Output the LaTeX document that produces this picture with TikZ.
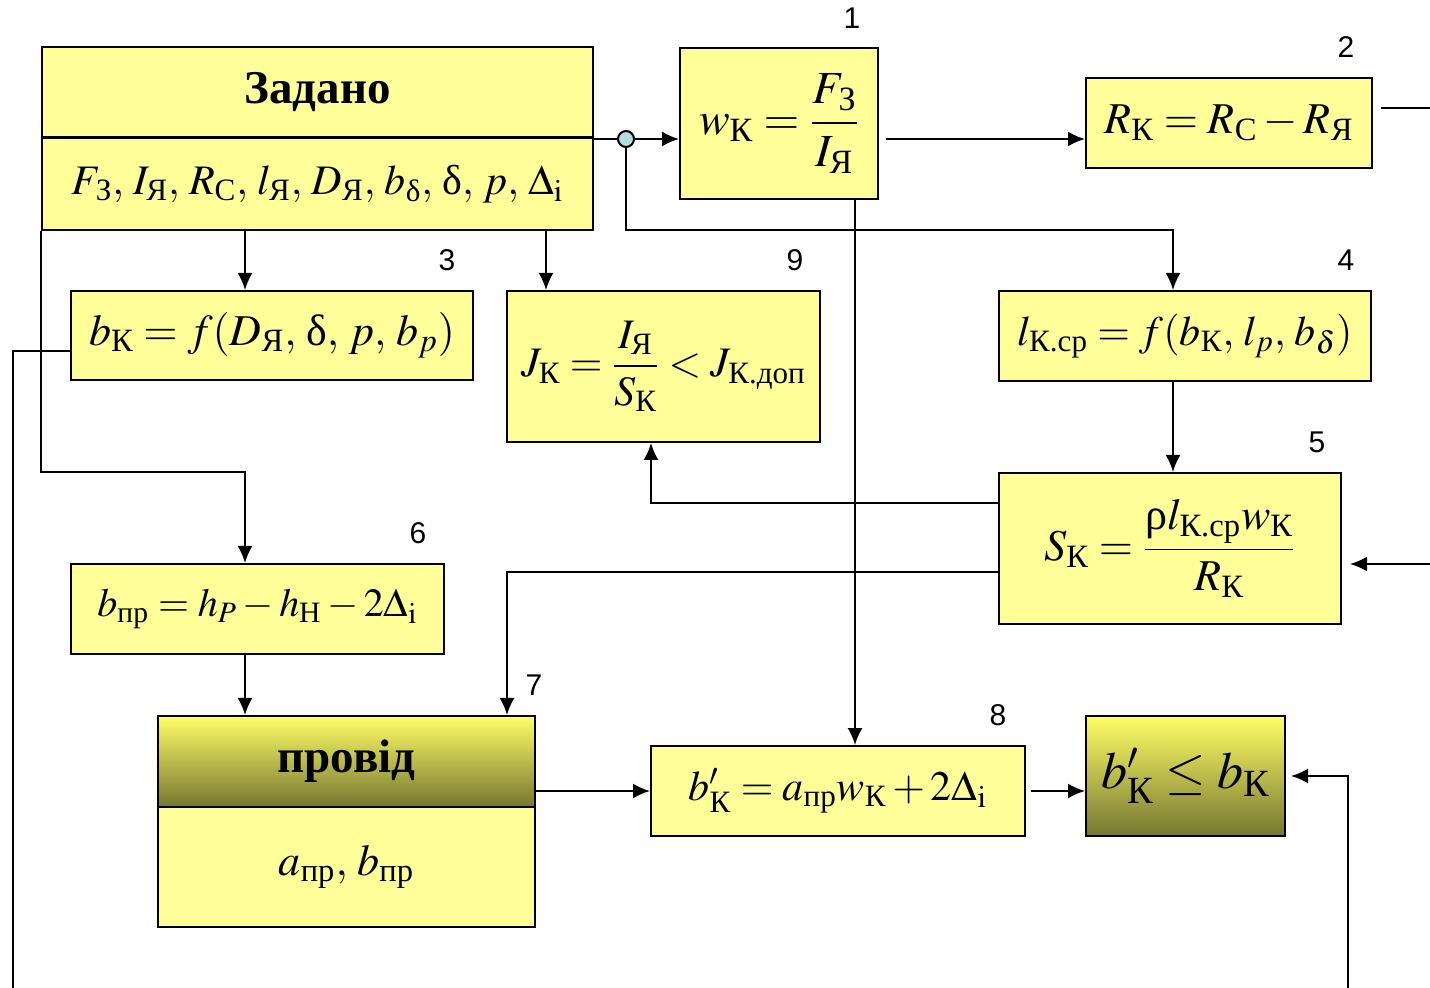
\documentclass[tikz,border=0pt]{standalone}
\usepackage{amsmath}
\usepackage{mathptmx}
\usepackage{fontspec}
\setmainfont{Liberation Serif}
\newfontfamily\numfont{Liberation Sans}
\usetikzlibrary{arrows.meta}
\definecolor{boxyellow}{RGB}{255,255,153}
\definecolor{gradtop}{RGB}{255,255,102}
\definecolor{gradbot}{RGB}{118,118,50}
\definecolor{knot}{RGB}{178,222,222}
\newcommand{\ct}[1]{\text{#1}}

\begin{document}
\begin{tikzpicture}[x=0.5pt,y=-0.5pt,line width=1pt,>={Latex[length=8.5pt,width=7.5pt]},
  box/.style={draw,fill=boxyellow,inner sep=0pt,font=\fontsize{21}{25}\selectfont},
  gbox/.style={draw,top color=gradtop,bottom color=gradbot,inner sep=0pt,font=\fontsize{21}{25}\selectfont},
  num/.style={font=\numfont\fontsize{15}{18}\selectfont,inner sep=0pt}]
\useasboundingbox (0,0) rectangle (1430,988);

\node[box,minimum width=275.5pt,minimum height=45pt,font=\fontsize{23.5}{26}\selectfont\bfseries] (zt) at (317.5,92) {Задано};
\node[box,minimum width=275.5pt,minimum height=46pt] (zb) at (317.5,184) {$F_{\kern1.5pt\ct{З}},\,I_{\ct{Я}},\,R_{\ct{С}},\,l_{\ct{Я}},\,D_{\ct{Я}},\,b_{\ct{δ}},\,\ct{δ},\, p,\,\Delta_{\mathrm{i}}$};
\node[box,minimum width=99pt,minimum height=75.5pt,font=\fontsize{23}{27}\selectfont] (w1) at (779,123.5) {$w_{\ct{К}}=\dfrac{F_{\kern1.5pt\ct{З}}}{I_{\ct{Я}}}$};
\node[box,minimum width=143pt,minimum height=45pt,font=\fontsize{22}{26}\selectfont] (r2) at (1229,123) {$R_{\ct{К}}=R_{\ct{С}}-R_{\ct{Я}}$};
\node[box,minimum width=201pt,minimum height=44.5pt,font=\fontsize{22}{26}\selectfont] (b3) at (272,335.5) {$b_{\ct{К}}=f(D_{\ct{Я}},\,\ct{δ},\,p,\,b_p)$};
\node[box,minimum width=156.5pt,minimum height=75.5pt] (j9) at (663.5,366.5) {$J_{\ct{К}}=\dfrac{I_{\ct{Я}}}{S_{\ct{К}}}<J_{\ct{К.доп}}$};
\node[box,minimum width=186pt,minimum height=45pt] (l4) at (1185,336) {$l_{\ct{К.ср}}=f(b_{\ct{К}},\,l_p,\,b_\delta)$};
\node[box,minimum width=171pt,minimum height=75.5pt,font=\fontsize{22}{26}\selectfont] (s5) at (1170,548.5) {$S_{\ct{К}}=\dfrac{\ct{ρ}l_{\ct{К.ср}}w_{\ct{К}}}{R_{\ct{К}}}$};
\node[box,minimum width=186.5pt,minimum height=45pt,font=\fontsize{20}{24}\selectfont] (b6) at (257.5,609) {$b_{\ct{пр}}=h_P-h_{\ct{Н}}-2\Delta_{\mathrm{i}}$};
\node[gbox,minimum width=188.5pt,minimum height=45.5pt,font=\fontsize{23.5}{26}\selectfont\bfseries] (p7t) at (346.5,761.5) {провід};
\node[box,minimum width=188.5pt,minimum height=60pt,font=\fontsize{22}{26}\selectfont] (p7b) at (346.5,867) {$a_{\ct{пр}},\,b_{\ct{пр}}$};
\node[box,minimum width=187pt,minimum height=45pt] (b8) at (838,791) {$b'_{\ct{К}}=a_{\ct{пр}}w_{\ct{К}}+2\Delta_{\mathrm{i}}$};
\node[gbox,minimum width=99.5pt,minimum height=60pt,font=\fontsize{26}{30}\selectfont] (c10) at (1185.5,776) {$b'_{\ct{К}}\le b_{\ct{К}}$};

\node[num] (n1) at (852,18) {1};
\node[num] (n2) at (1346,47) {2};
\node[num] (n3) at (447,260) {3};
\node[num] (n4) at (1346,260) {4};
\node[num] (n5) at (1317,442) {5};
\node[num] (n6) at (418,533) {6};
\node[num] (n7) at (534,685) {7};
\node[num] (n8) at (998,715) {8};
\node[num] (n9) at (795,260) {9};

\node[circle,draw,fill=knot,minimum size=8pt,inner sep=0pt] (circ) at (626,139) {};

\coordinate (xa) at (245,0);
\coordinate (xb) at (546,0);
\coordinate (xc) at (855,0);
\coordinate (k1) at (1173,230);
\coordinate (k2) at (245,472);
\coordinate (k3) at (13,988);
\coordinate (k4) at (651,503);
\coordinate (k5) at (507,572);
\coordinate (k8) at (1348,988);
\coordinate (e2) at (1430,108);
\coordinate (e5) at (1430,564);

\draw (zb.north east |- circ) -- (circ);
\draw[->] (circ) -- (w1.west |- circ);
\draw[->] (circ) |- (k1) -- (k1 |- l4.north);
\draw[->,shorten <=3.5pt] (w1.east |- circ) -- (r2.west |- circ);
\draw[shorten <=4pt] (r2.east |- e2) -- (e2);
\draw[->,shorten >=4pt] (e5) -- (s5.east |- e5);
\draw[->] (zb.south -| xa) -- (b3.north -| xa);
\draw[->] (zb.south -| xb) -- (j9.north -| xb);
\draw[->] (zb.south west) |- (k2) -- (b6.north -| k2);
\draw[->] (b6.south -| xa) -- (p7t.north -| xa);
\draw ([yshift=-7.75pt]b3.west) -| (k3);
\draw[->] (l4.south -| k1) -- (s5.north -| k1);
\draw[->] (s5.west |- k4) -- (k4) -- (j9.south -| k4);
\draw[->] (s5.west |- k5) -- (k5) -- (p7t.north -| k5);
\draw[->] (w1.south -| xc) -- (b8.north -| xc);
\draw[->] (p7t.east |- b8.west) -- (b8.west);
\draw[->,shorten <=2.5pt] (b8.east) -- (c10.west |- b8.east);
\draw[->,shorten >=2.5pt] (k8) |- (c10.east);
\end{tikzpicture}
\end{document}
